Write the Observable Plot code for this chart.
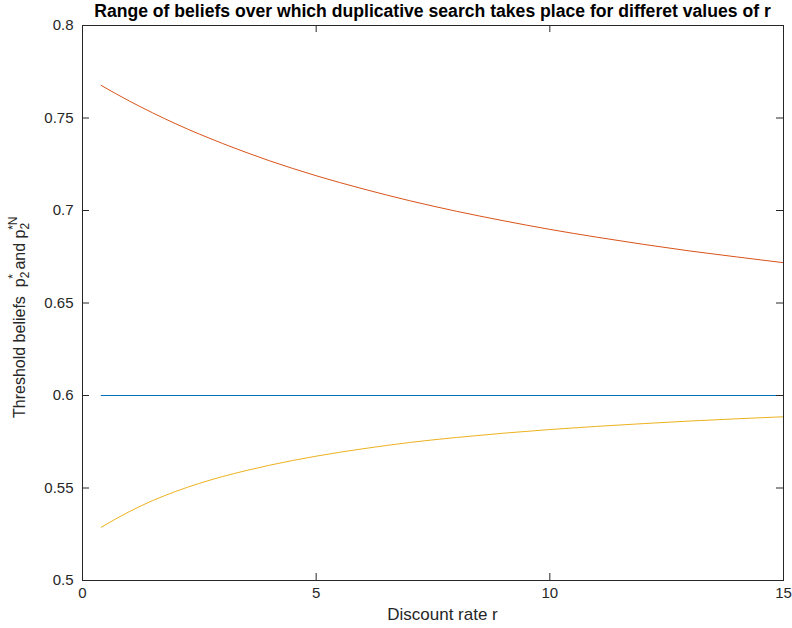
<!DOCTYPE html>
<html><head><meta charset="utf-8">
<script src="https://cdn.jsdelivr.net/npm/d3@7"></script>
<script src="https://cdn.jsdelivr.net/npm/@observablehq/plot@0.6"></script>
<style>body{margin:0;background:#fff} svg{display:block}</style>
</head><body><div id="chart"></div>
<script>
// Discount rate grid
const rValues = [0.4, 1, 1.5, 2, 2.5, 3, 3.5, 4, 5, 6, 7, 8, 9, 10, 11, 12, 13, 14, 15];
// Upper threshold p2^{*N} (red)
const pUpper = [0.7676, 0.7592, 0.7528, 0.7468, 0.7413, 0.7362, 0.7314, 0.7269, 0.7188, 0.7117, 0.7053, 0.6996, 0.6945, 0.6898, 0.6856, 0.6817, 0.6781, 0.6749, 0.6718];
// Lower threshold p2^* (yellow)
const pLower = [0.5288, 0.5372, 0.5432, 0.5482, 0.5525, 0.5562, 0.5594, 0.5623, 0.5672, 0.5712, 0.5746, 0.5773, 0.5796, 0.5816, 0.5833, 0.5848, 0.5862, 0.5874, 0.5885];
// Flat reference line (blue)
const rFlat = [0.4, 15];
const pFlat = [0.6, 0.6];

const xTicks = [0, 5, 10, 15];
const yTicks = [0.5, 0.55, 0.6, 0.65, 0.7, 0.75, 0.8];

const titleText = "Range of beliefs over which duplicative search takes place for differet values of r";
const xLabel = "Discount rate r";

const W = 792, H = 628;
const mL = 82, mR = 9, mT = 25, mB = 48;
const pw = W - mL - mR, ph = H - mT - mB;
const tickLen = 7;
const axisColor = "#262626";

const upper = rValues.map((r, i) => ({r, p: pUpper[i]}));
const lower = rValues.map((r, i) => ({r, p: pLower[i]}));
const flat = rFlat.map((r, i) => ({r, p: pFlat[i]}));

const chart = Plot.plot({
  width: W, height: H,
  marginLeft: mL, marginRight: mR, marginTop: mT, marginBottom: mB,
  style: {fontFamily: "'Liberation Sans', Arial, Helvetica, sans-serif", fontSize: "15px", color: axisColor, background: "#fff"},
  x: {domain: [0, 15]},
  y: {domain: [0.5, 0.8]},
  marks: [
    Plot.line(flat, {x: "r", y: "p", stroke: "#0072BD", strokeWidth: 1}),
    Plot.line(upper, {x: "r", y: "p", stroke: "#D95319", strokeWidth: 1, curve: "monotone-x"}),
    Plot.line(lower, {x: "r", y: "p", stroke: "#EDB120", strokeWidth: 1, curve: "monotone-x"}),
    Plot.frame({stroke: axisColor, strokeWidth: 1}),
    Plot.ruleX(xTicks, {x: d => d, insetTop: ph - tickLen, stroke: axisColor}),
    Plot.ruleX(xTicks, {x: d => d, insetBottom: ph - tickLen, stroke: axisColor}),
    Plot.ruleY(yTicks, {y: d => d, insetRight: pw - tickLen, stroke: axisColor}),
    Plot.ruleY(yTicks, {y: d => d, insetLeft: pw - tickLen, stroke: axisColor}),
    Plot.axisX(xTicks, {tickSize: 0, tickPadding: 7, label: null, fill: axisColor, tickFormat: d => String(d)}),
    Plot.axisY(yTicks, {tickSize: 0, tickPadding: 9, label: null, fill: axisColor, tickFormat: d => String(+d.toFixed(2))})
  ]
});

const svg = d3.select(chart);
svg.append("text")
  .attr("x", mL + pw / 2).attr("y", 17)
  .attr("text-anchor", "middle")
  .attr("font-weight", "bold").attr("font-size", 17.6)
  .attr("fill", "#000")
  .text(titleText);

svg.append("text")
  .attr("x", mL + pw / 2 + 10).attr("y", 620)
  .attr("text-anchor", "middle")
  .attr("font-size", 17)
  .attr("fill", axisColor)
  .text(xLabel);

const yl = svg.append("text")
  .attr("transform", "translate(25,418) rotate(-90)")
  .attr("text-anchor", "start")
  .attr("font-size", 16)
  .attr("fill", axisColor);
yl.append("tspan").text("Threshold beliefs  p");
yl.append("tspan").attr("font-size", 12).attr("dy", 4).text("2");
yl.append("tspan").attr("font-size", 12).attr("dx", -7).attr("dy", -12).text("*");
yl.append("tspan").attr("dy", 8).text(" and p");
yl.append("tspan").attr("font-size", 12).attr("dy", 4).text("2");
yl.append("tspan").attr("font-size", 12).attr("dx", -7).attr("dy", -12).text("*N");

document.getElementById("chart").appendChild(chart);
</script>
</body></html>
